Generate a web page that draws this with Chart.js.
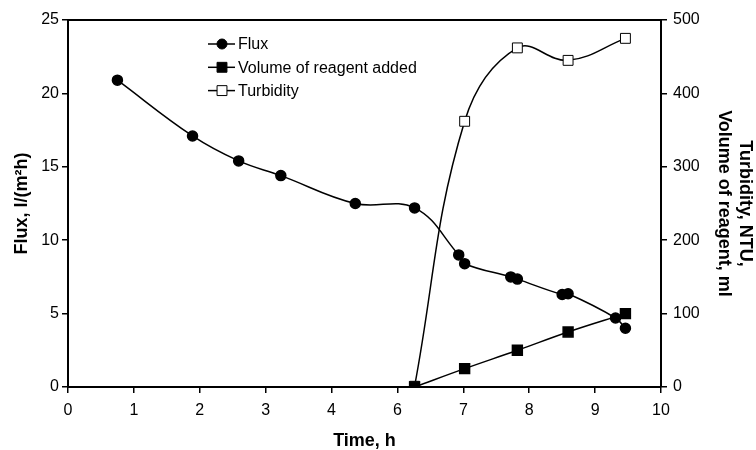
<!DOCTYPE html>
<html>
<head>
<meta charset="utf-8">
<script src="https://cdn.jsdelivr.net/npm/chart.js@4.4.1/dist/chart.umd.min.js"></script>
<style>
  html, body { margin: 0; padding: 0; background: #fff; }
  #wrap { width: 756px; height: 450px; }
</style>
</head>
<body>
<div id="wrap"><canvas id="fluxChart" width="756" height="450"></canvas></div>
<script>
// time axis labels as printed on the figure (there is no 5)
const xTickLabels = [0, 1, 2, 3, 4, 6, 7, 8, 9, 10];
const leftTicks = [0, 5, 10, 15, 20, 25];
const rightTicks = [0, 100, 200, 300, 400, 500];

// flux, l/(m2h)
const fluxTime = [0.75, 1.89, 2.59, 3.23, 4.72, 6.26, 6.93, 7.02, 7.72, 7.82, 8.5, 8.59, 9.31, 9.46];
const fluxValues = [20.9, 17.1, 15.4, 14.4, 12.5, 12.2, 9.0, 8.4, 7.5, 7.35, 6.3, 6.35, 4.7, 4.0];

// reagent added, ml
const reagentTime = [6.26, 7.02, 7.82, 8.59, 9.46];
const reagentValues = [0, 25, 50, 75, 100];

// turbidity, NTU
const turbidityTime = [6.26, 7.02, 7.82, 8.59, 9.46];
const turbidityValues = [1, 362, 462, 445, 475];

const legendLabels = ['Flux', 'Volume of reagent added', 'Turbidity'];

// position on the printed axis, between the two neighbouring labels
function timeToAxis(t) {
    for (let i = 0; i < xTickLabels.length - 1; i++) {
        const a = xTickLabels[i], b = xTickLabels[i + 1];
        if (t <= b) return i + (t - a) / (b - a);
    }
    return xTickLabels.length - 1;
}

function toPoints(xs, ys) {
    return xs.map((x, i) => ({ x: timeToAxis(x), y: ys[i] }));
}

const family = '"Liberation Sans", Arial, sans-serif';
const font = { family: family, size: 16 };
const boldFont = { family: family, size: 18, weight: 'bold' };

// excel-like legend: short line with marker in the middle
const excelLegend = {
    id: 'excelLegend',
    afterDraw(chart) {
        const ctx = chart.ctx;
        const area = chart.chartArea;
        const left = area.left + 140;
        const top = area.top + 24;
        ctx.save();
        chart.data.datasets.forEach((ds, i) => {
            const y = top + i * 23.3;
            ctx.strokeStyle = '#000';
            ctx.lineWidth = 1.5;
            ctx.beginPath();
            ctx.moveTo(left, y);
            ctx.lineTo(left + 27, y);
            ctx.stroke();
            const cx = left + 14;
            ctx.fillStyle = ds.pointBackgroundColor;
            ctx.lineWidth = 1;
            ctx.beginPath();
            if (ds.pointStyle === 'circle') {
                ctx.arc(cx, y, ds.pointRadius, 0, Math.PI * 2);
            } else {
                const h = ds.pointRadius * Math.SQRT1_2;
                ctx.rect(cx - h, y - h, 2 * h, 2 * h);
            }
            ctx.fill();
            ctx.stroke();
            ctx.fillStyle = '#000';
            ctx.font = '16px ' + family;
            ctx.textBaseline = 'middle';
            ctx.fillText(legendLabels[i], left + 30, y + 1);
        });
        ctx.restore();
    }
};

// frame line across the top of the plot
const topBorder = {
    id: 'topBorder',
    afterDraw(chart) {
        const ctx = chart.ctx;
        const a = chart.chartArea;
        ctx.save();
        ctx.strokeStyle = '#000';
        ctx.lineWidth = 2;
        ctx.beginPath();
        ctx.moveTo(a.left - 1, a.top);
        ctx.lineTo(a.right + 1, a.top);
        ctx.stroke();
        ctx.restore();
    }
};

const datasets = [
    {
        label: legendLabels[0],
        data: toPoints(fluxTime, fluxValues),
        yAxisID: 'y',
        borderColor: '#000',
        borderWidth: 1.5,
        pointStyle: 'circle',
        pointRadius: 5,
        pointBackgroundColor: '#000',
        pointBorderColor: '#000',
        tension: 0.4
    },
    {
        label: legendLabels[1],
        data: toPoints(reagentTime, reagentValues),
        yAxisID: 'y2',
        borderColor: '#000',
        borderWidth: 1.5,
        pointStyle: 'rect',
        pointRadius: 7,
        pointBackgroundColor: '#000',
        pointBorderColor: '#000',
        tension: 0.4
    },
    {
        label: legendLabels[2],
        data: toPoints(turbidityTime, turbidityValues),
        yAxisID: 'y2',
        borderColor: '#000',
        borderWidth: 1.5,
        pointStyle: 'rect',
        pointRadius: 7,
        pointBackgroundColor: '#fff',
        pointBorderColor: '#000',
        pointBorderWidth: 1,
        tension: 0.4
    }
];

const axisGrid = { drawOnChartArea: false, drawTicks: true, tickLength: 6, color: '#000', lineWidth: 1.5 };
const axisBorder = { display: true, color: '#000', width: 2 };

new Chart(document.getElementById('fluxChart'), {
    type: 'line',
    data: { datasets: datasets },
    options: {
        responsive: false,
        animation: false,
        events: [],
        layout: { padding: { top: 20, left: 0, right: 0, bottom: 0 } },
        plugins: { legend: { display: false }, tooltip: { enabled: false } },
        scales: {
            x: {
                type: 'linear',
                position: 'bottom',
                min: 0,
                max: xTickLabels.length - 1,
                afterBuildTicks: s => { s.ticks = xTickLabels.map((v, i) => ({ value: i })); },
                afterFit: s => { s.height = 63; },
                grid: axisGrid,
                border: axisBorder,
                ticks: { color: '#000', font: font, padding: 8, callback: (v, i) => String(xTickLabels[i]) },
                title: { display: true, text: 'Time, h', color: '#000', font: boldFont, padding: { top: 0, bottom: -2 } }
            },
            y: {
                type: 'linear',
                position: 'left',
                min: 0,
                max: 25,
                afterBuildTicks: s => { s.ticks = leftTicks.map(v => ({ value: v })); },
                afterFit: s => { s.width = 68; },
                grid: axisGrid,
                border: axisBorder,
                ticks: { color: '#000', font: font, padding: 3 },
                title: { display: true, text: 'Flux, l/(m²h)', color: '#000', font: boldFont, padding: { top: 11, bottom: 0 } }
            },
            y2: {
                type: 'linear',
                position: 'right',
                min: 0,
                max: 500,
                afterBuildTicks: s => { s.ticks = rightTicks.map(v => ({ value: v })); },
                afterFit: s => { s.width = 95; },
                grid: axisGrid,
                border: axisBorder,
                ticks: { color: '#000', font: font, padding: 6 },
                title: { display: true, text: ['Turbidity, NTU,', 'Volume of reagent, ml'], color: '#000', font: boldFont, padding: 0 }
            }
        }
    },
    plugins: [excelLegend, topBorder]
});
</script>
</body>
</html>
